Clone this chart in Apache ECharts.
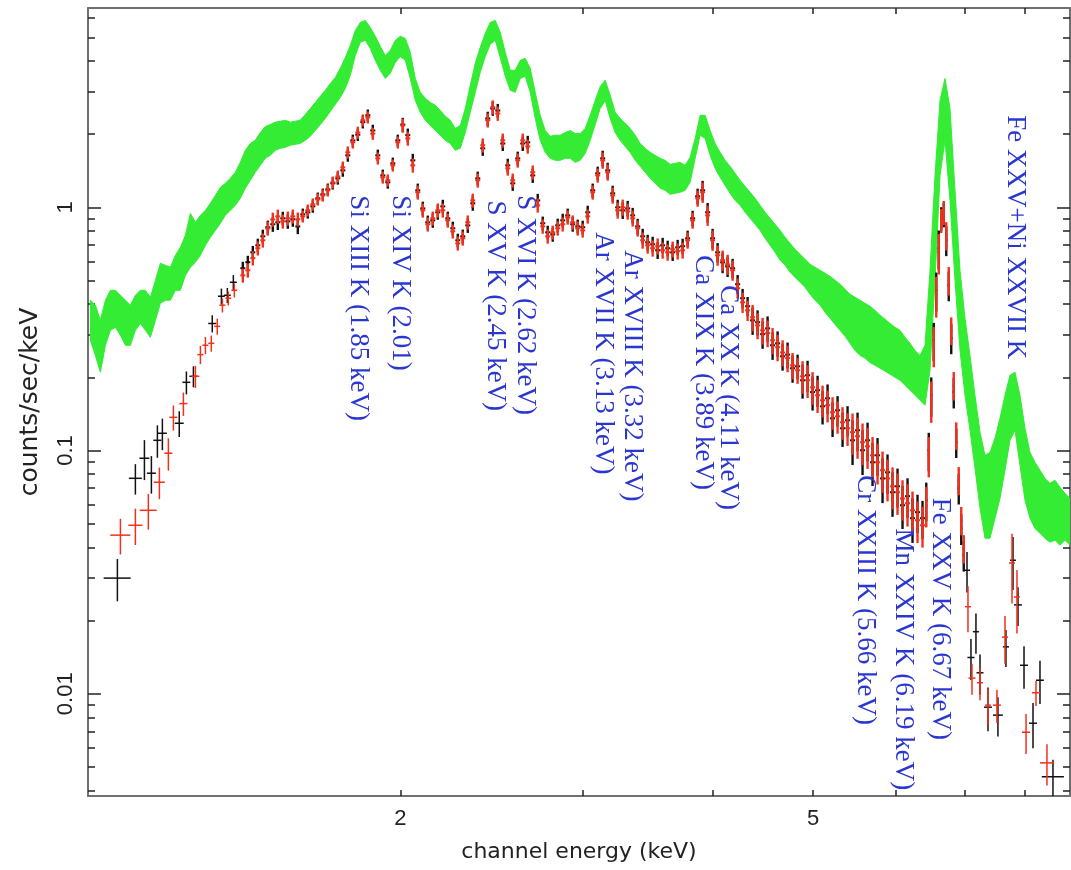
<!DOCTYPE html>
<html><head><meta charset="utf-8">
<script src="https://cdn.jsdelivr.net/npm/echarts@6/dist/echarts.min.js"></script>
<style>html,body{margin:0;padding:0;background:#fff}#c{width:1071px;height:870px}</style>
</head><body><div id="c"></div>
<script>
// ---------------- axis ticks ----------------
const xTickValues = [2, 3, 4, 5, 6, 7, 8];
const xLabelValues = [2, 5];
const yMajorValues = [0.01, 0.1, 1];
const yMinorValues = [0.004, 0.005, 0.006, 0.007, 0.008, 0.009, 0.02, 0.03, 0.04, 0.05, 0.06, 0.07, 0.08, 0.09, 0.2, 0.3, 0.4, 0.5, 0.6, 0.7, 0.8, 0.9, 2, 3, 4, 5, 6];

// ---------------- green spectrum (band: upper / lower envelope) ----------------
const greenE = [1.0053,1.0166,1.0279,1.0394,1.0510,1.0627,1.0746,1.0866,1.0987,1.1109,1.1233,1.1359,1.1486,1.1614,1.1743,1.1874,1.2007,1.2141,1.2276,1.2413,1.2552,1.2692,1.2834,1.2977,1.3122,1.3268,1.3416,1.3564,1.3715,1.3868,1.4023,1.4179,1.4337,1.4497,1.4659,1.4822,1.4988,1.5155,1.5324,1.5495,1.5668,1.5843,1.6019,1.6198,1.6379,1.6562,1.6747,1.6934,1.7123,1.7314,1.7507,1.7702,1.7900,1.8100,1.8302,1.8506,1.8712,1.8921,1.9132,1.9346,1.9562,1.9780,2.0000,2.0223,2.0449,2.0677,2.0908,2.1141,2.1377,2.1615,2.1857,2.2100,2.2347,2.2596,2.2848,2.3103,2.3361,2.3621,2.3885,2.4151,2.4421,2.4693,2.4968,2.5247,2.5528,2.5813,2.6101,2.6392,2.6686,2.6984,2.7285,2.7589,2.7897,2.8208,2.8523,2.8841,2.9163,2.9488,2.9817,3.0149,3.0486,3.0826,3.1170,3.1517,3.1869,3.2224,3.2584,3.2947,3.3315,3.3686,3.4062,3.4442,3.4826,3.5214,3.5607,3.6004,3.6406,3.6812,3.7222,3.7637,3.8057,3.8482,3.8911,3.9345,3.9784,4.0227,4.0676,4.1130,4.1589,4.2052,4.2521,4.2996,4.3475,4.3960,4.4450,4.4946,4.5447,4.5954,4.6467,4.6985,4.7509,4.8039,4.8575,4.9117,4.9665,5.0219,5.0779,5.1345,5.1918,5.2497,5.3082,5.3674,5.4273,5.4878,5.5490,5.6109,5.6735,5.7368,5.8008,5.8655,5.9309,5.9970,6.0639,6.1315,6.1999,6.2691,6.3390,6.4097,6.4812,6.5535,6.6266,6.7005,6.7752,6.8508,6.9272,7.0045,7.0827,7.1617,7.2417,7.3225,7.4042,7.4868,7.5704,7.6549,7.7403,7.8267,7.9141,8.0024,8.0917,8.1820,8.2733,8.3657,8.4590,8.5534,8.6489,8.7454,8.8430];
const greenHi = [0.415,0.396,0.343,0.415,0.456,0.456,0.435,0.415,0.396,0.435,0.456,0.456,0.427,0.501,0.589,0.578,0.567,0.635,0.685,0.767,0.945,0.868,0.927,0.972,1.039,1.12,1.208,1.255,1.316,1.393,1.531,1.715,1.83,1.885,2.03,2.15,2.19,2.24,2.26,2.28,2.24,2.26,2.28,2.41,2.55,2.70,2.86,3.03,3.23,3.42,3.73,4.13,4.63,5.34,5.76,5.87,5.49,5.05,4.59,4.21,4.42,4.86,5.05,4.95,4.34,3.39,2.97,2.81,2.70,2.63,2.50,2.37,2.28,2.11,2.17,2.55,3.17,3.91,4.55,5.19,5.76,5.87,5.24,4.34,3.66,3.66,4.02,4.10,3.73,2.97,2.39,2.07,1.96,1.98,1.98,2.03,2.07,2.01,2.01,2.11,2.39,2.75,3.14,3.33,2.89,2.46,2.32,2.215,2.11,1.98,1.83,1.748,1.683,1.636,1.59,1.56,1.502,1.516,1.531,1.488,1.605,1.92,2.39,2.39,2.07,1.83,1.683,1.56,1.474,1.38,1.291,1.22,1.153,1.089,1.019,0.954,0.901,0.852,0.804,0.753,0.711,0.672,0.641,0.611,0.583,0.567,0.551,0.536,0.520,0.501,0.483,0.460,0.439,0.427,0.415,0.403,0.392,0.377,0.360,0.347,0.333,0.321,0.312,0.292,0.276,0.258,0.246,0.271,0.551,1.353,2.75,3.39,2.55,1.175,0.551,0.350,0.246,0.1688,0.119,0.0956,0.0983,0.1124,0.1357,0.1688,0.204,0.210,0.1688,0.1235,0.0983,0.0895,0.083,0.0768,0.0733,0.0755,0.0706,0.0668,0.0635];
const greenLo = [0.284,0.246,0.210,0.271,0.312,0.321,0.298,0.271,0.271,0.312,0.333,0.312,0.292,0.343,0.403,0.415,0.415,0.456,0.456,0.525,0.567,0.594,0.635,0.698,0.753,0.804,0.860,0.927,0.972,1.019,1.089,1.197,1.291,1.393,1.488,1.59,1.636,1.715,1.748,1.765,1.80,1.815,1.83,1.885,1.96,2.07,2.19,2.32,2.48,2.65,2.83,3.08,3.49,4.21,4.77,4.86,4.50,4.02,3.66,3.39,3.56,3.94,4.17,4.02,3.39,2.75,2.46,2.28,2.17,2.07,1.98,1.885,1.83,1.715,1.748,2.03,2.46,2.97,3.59,4.17,4.68,4.86,4.13,3.46,3.03,2.97,3.39,3.46,2.97,2.32,1.885,1.683,1.59,1.56,1.56,1.59,1.59,1.531,1.56,1.667,1.885,2.19,2.55,2.75,2.32,2.03,1.885,1.78,1.683,1.56,1.474,1.393,1.316,1.255,1.197,1.175,1.131,1.142,1.153,1.175,1.267,1.59,1.98,1.92,1.636,1.446,1.328,1.231,1.142,1.068,1.019,0.954,0.901,0.852,0.804,0.746,0.698,0.653,0.606,0.578,0.541,0.515,0.492,0.469,0.439,0.415,0.396,0.370,0.350,0.330,0.312,0.295,0.276,0.258,0.246,0.240,0.230,0.224,0.218,0.212,0.206,0.200,0.1945,0.1855,0.177,0.1688,0.161,0.1535,0.214,0.501,1.353,1.885,1.068,0.501,0.258,0.1688,0.1212,0.0845,0.058,0.0436,0.0436,0.0527,0.0635,0.083,0.1102,0.1212,0.087,0.0625,0.0527,0.0478,0.0457,0.0436,0.042,0.0428,0.0408,0.0428,0.0408];

// ---------------- black & red spectra, densely binned part ----------------
const denseEdges = [1.4023,1.4179,1.4337,1.4497,1.4659,1.4822,1.4988,1.5155,1.5324,1.5495,1.5668,1.5843,1.6019,1.6198,1.6379,1.6562,1.6747,1.6934,1.7123,1.7314,1.7507,1.7702,1.7900,1.8100,1.8302,1.8506,1.8712,1.8921,1.9132,1.9346,1.9562,1.9780,2.0000,2.0223,2.0449,2.0677,2.0908,2.1141,2.1377,2.1615,2.1857,2.2100,2.2347,2.2596,2.2848,2.3103,2.3361,2.3621,2.3885,2.4151,2.4421,2.4693,2.4968,2.5247,2.5528,2.5813,2.6101,2.6392,2.6686,2.6984,2.7285,2.7589,2.7897,2.8208,2.8523,2.8841,2.9163,2.9488,2.9817,3.0149,3.0486,3.0826,3.1170,3.1517,3.1869,3.2224,3.2584,3.2947,3.3315,3.3686,3.4062,3.4442,3.4826,3.5214,3.5607,3.6004,3.6406,3.6812,3.7222,3.7637,3.8057,3.8482,3.8911,3.9345,3.9784,4.0227,4.0676,4.1130,4.1589,4.2052,4.2521,4.2996,4.3475,4.3960,4.4450,4.4946,4.5447,4.5954,4.6467,4.6985,4.7509,4.8039,4.8575,4.9117,4.9665,5.0219,5.0779,5.1345,5.1918,5.2497,5.3082,5.3674,5.4273,5.4878,5.5490,5.6109,5.6735,5.7368,5.8008,5.8655,5.9309,5.9970,6.0639,6.1315,6.1999,6.2691,6.3390,6.4097,6.4454,6.4812,6.5173,6.5535,6.5900,6.6266,6.6635,6.7005,6.7378,6.7752,6.8129,6.8508,6.8889,6.9272,6.9658,7.0045];
const redDenseY = [0.525,0.551,0.618,0.679,0.732,0.819,0.892,0.918,0.876,0.901,0.918,0.893,0.918,0.972,1.029,1.078,1.12,1.175,1.267,1.34,1.46,1.683,1.85,2.03,2.28,2.345,2.01,1.59,1.328,1.291,1.488,1.85,2.17,1.92,1.488,1.153,0.972,0.852,0.901,0.972,0.972,0.884,0.797,0.711,0.746,0.868,1.068,1.291,1.80,2.28,2.58,2.43,1.885,1.446,1.291,1.56,1.885,1.78,1.393,1.019,0.835,0.76,0.789,0.82,0.852,0.91,0.868,0.82,0.804,0.918,1.153,1.353,1.56,1.393,1.12,0.972,1.0,0.963,0.901,0.82,0.732,0.698,0.679,0.692,0.666,0.653,0.672,0.66,0.666,0.732,0.884,1.089,1.153,0.927,0.732,0.635,0.606,0.583,0.551,0.465,0.407,0.377,0.353,0.327,0.312,0.304,0.284,0.266,0.253,0.24,0.224,0.214,0.202,0.1945,0.182,0.1688,0.161,0.1535,0.1437,0.1383,0.1308,0.1235,0.119,0.1145,0.1082,0.1041,0.0956,0.0895,0.083,0.0768,0.0713,0.0674,0.0635,0.0607,0.0568,0.0517,0.0493,0.0596,0.0956,0.161,0.271,0.435,0.653,0.884,0.954,0.767,0.501,0.312,0.1855,0.1156,0.0755,0.0517,0.0396];
const blackDenseY = [0.562,0.595,0.653,0.698,0.760,0.828,0.852,0.868,0.901,0.876,0.893,0.835,0.936,0.954,1.009,1.089,1.131,1.186,1.255,1.316,1.419,1.636,1.885,1.99,2.24,2.39,2.07,1.636,1.353,1.267,1.516,1.885,2.19,1.98,1.56,1.175,0.99,0.868,0.884,0.954,1.009,0.901,0.82,0.732,0.76,0.843,1.039,1.316,1.748,2.32,2.55,2.50,1.83,1.488,1.255,1.59,1.83,1.85,1.353,1.068,0.86,0.789,0.774,0.843,0.884,0.927,0.852,0.835,0.828,0.954,1.175,1.38,1.59,1.419,1.142,1.0,0.972,0.99,0.927,0.835,0.76,0.718,0.705,0.666,0.698,0.679,0.653,0.685,0.692,0.746,0.901,1.11,1.175,0.954,0.746,0.653,0.594,0.572,0.562,0.483,0.423,0.392,0.343,0.337,0.301,0.318,0.271,0.276,0.244,0.248,0.218,0.222,0.1945,0.204,0.174,0.177,0.152,0.164,0.1357,0.1464,0.1235,0.1332,0.1102,0.1212,0.1003,0.1102,0.0895,0.0956,0.0768,0.0814,0.0674,0.0713,0.0596,0.0649,0.0527,0.0558,0.0527,0.0625,0.1003,0.1688,0.284,0.456,0.679,0.901,0.936,0.732,0.478,0.29,0.174,0.1082,0.07,0.0478,0.0371];
const denseYErr = [0.035,0.037,0.041,0.045,0.049,0.054,0.059,0.061,0.058,0.06,0.061,0.059,0.052,0.055,0.059,0.061,0.064,0.067,0.072,0.076,0.083,0.096,0.105,0.116,0.13,0.134,0.115,0.091,0.076,0.074,0.085,0.105,0.144,0.128,0.099,0.077,0.065,0.057,0.06,0.065,0.065,0.059,0.053,0.047,0.05,0.058,0.071,0.086,0.12,0.152,0.172,0.162,0.125,0.096,0.086,0.104,0.125,0.118,0.093,0.068,0.056,0.051,0.052,0.055,0.057,0.061,0.058,0.055,0.053,0.061,0.077,0.09,0.119,0.106,0.085,0.074,0.076,0.073,0.068,0.062,0.056,0.053,0.052,0.053,0.051,0.05,0.051,0.05,0.051,0.056,0.067,0.083,0.11,0.088,0.07,0.06,0.058,0.055,0.052,0.044,0.039,0.036,0.044,0.04,0.039,0.038,0.035,0.033,0.031,0.03,0.028,0.026,0.031,0.03,0.028,0.026,0.024,0.023,0.022,0.021,0.02,0.019,0.023,0.022,0.021,0.02,0.018,0.017,0.016,0.015,0.014,0.013,0.012,0.012,0.011,0.01,0.0094,0.0113,0.018,0.031,0.051,0.083,0.124,0.1,0.108,0.102,0.067,0.041,0.025,0.015,0.01,0.0069,0.0053];

// ---------------- black & red spectra, wide bins (crosses) ----------------
const blackCrossE  = [1.0674,1.1109,1.1334,1.1511,1.1665,1.1795,1.2245,1.2441,1.2636,1.3176,1.3446,1.3624,1.3807,7.036,7.098,7.177,7.242,7.371,7.536,7.671,7.792,7.879,7.985,8.146,8.273,8.515];
const blackCrossDE = [0.032,0.016,0.0125,0.0115,0.0104,0.0118,0.0122,0.011,0.0112,0.0117,0.0103,0.0106,0.0107,0.047,0.055,0.048,0.056,0.065,0.083,0.052,0.052,0.069,0.071,0.072,0.073,0.209];
const blackCrossY  = [0.0299,0.0769,0.093,0.0807,0.1102,0.1178,0.1295,0.1908,0.202,0.333,0.431,0.435,0.492,0.0322,0.0141,0.018,0.0122,0.00881,0.00817,0.0156,0.0354,0.0232,0.0131,0.00757,0.01137,0.00456];
const blackCrossDY = [0.0059,0.011,0.0174,0.0142,0.0168,0.0174,0.0157,0.0206,0.02,0.027,0.0325,0.031,0.0345,0.0061,0.0027,0.0034,0.0023,0.0018,0.0015,0.0027,0.0087,0.0042,0.0026,0.0016,0.0023,0.0008];
const redCrossE  = [1.0746,1.1109,1.1433,1.1717,1.1953,1.2087,1.2358,1.2692,1.2834,1.2977,1.3147,1.3323,1.3476,1.3654,1.3837,7.051,7.114,7.242,7.371,7.519,7.655,7.775,7.861,8.021,8.200,8.402];
const redCrossDE = [0.0239,0.0173,0.0216,0.0143,0.0107,0.0107,0.0112,0.0112,0.0085,0.0085,0.0088,0.009,0.0089,0.0091,0.0092,0.047,0.055,0.048,0.048,0.066,0.052,0.052,0.052,0.072,0.073,0.13];
const redCrossY  = [0.0449,0.0493,0.0568,0.0741,0.0975,0.137,0.156,0.202,0.248,0.271,0.276,0.324,0.396,0.423,0.456,0.0228,0.0116,0.0111,0.00898,0.00898,0.0171,0.0345,0.025,0.00695,0.0101,0.0052];
const redCrossDY = [0.0075,0.0084,0.0095,0.011,0.0148,0.0162,0.0172,0.021,0.0215,0.022,0.021,0.0245,0.0265,0.028,0.03,0.0049,0.0017,0.0017,0.0015,0.0014,0.0038,0.011,0.0073,0.0013,0.0012,0.001];

// ---------------- line identifications ----------------
const lineLabels = ["Si XIII K (1.85 keV)","Si XIV K (2.01)","S XV K (2.45 keV)","S XVI K (2.62 keV)","Ar XVII K (3.13 keV)","Ar XVIII K (3.32 keV)","Ca XIX K (3.89 keV)","Ca XX K (4.11 keV)","Cr XXIII K (5.66 keV)","Mn XXIV K (6.19 keV)","Fe XXV K (6.67 keV)","Fe XXV+Ni XXVII K"];
const lineLabelE = [1.822,2.0,2.469,2.639,3.138,3.346,3.917,4.14,5.611,6.104,6.627,7.827];
const lineLabelY = [1.12,1.12,1.068,1.12,0.789,0.666,0.635,0.478,0.0791,0.0478,0.064,2.39];

// ---------------- build ----------------
const GREEN = '#33ec33', RED = '#f2301c', BLACK = '#111111', BLUE = '#2a36d0';
const X_MIN = 1, X_MAX = 8.843, Y_MIN = 0.0038, Y_MAX = 6.6;

const greenData = greenE.map((e, i) => [e, greenLo[i], greenHi[i]]);
const redDenseData = redDenseY.map((y, i) => [denseEdges[i], denseEdges[i + 1], y, denseYErr[i], Math.sqrt(denseEdges[i] * denseEdges[i + 1])]);
const blackDenseData = blackDenseY.map((y, i) => [denseEdges[i], denseEdges[i + 1], y, denseYErr[i], Math.sqrt(denseEdges[i] * denseEdges[i + 1])]);
const blackCrossData = blackCrossE.map((e, i) => [e - blackCrossDE[i], e + blackCrossDE[i], blackCrossY[i], blackCrossDY[i], e]);
const redCrossData = redCrossE.map((e, i) => [e - redCrossDE[i], e + redCrossDE[i], redCrossY[i], redCrossDY[i], e]);
const labelData = lineLabelE.map((e, i) => [e, lineLabelY[i]]);

function errBar(color, hw, vw) {
  return function (params, api) {
    const eLo = api.value(0), eHi = api.value(1), y = api.value(2), err = api.value(3), ec = api.value(4);
    const pL = api.coord([eLo, y]), pR = api.coord([eHi, y]);
    const pT = api.coord([ec, y + err]), pB = api.coord([ec, Math.max(y - err, 1e-5)]);
    return {
      type: 'group', children: [
        { type: 'line', shape: { x1: pL[0], y1: pL[1], x2: pR[0], y2: pR[1] }, style: { stroke: color, lineWidth: hw } },
        { type: 'line', shape: { x1: pT[0], y1: pT[1], x2: pB[0], y2: pB[1] }, style: { stroke: color, lineWidth: vw } }
      ]
    };
  };
}

const axisLine = { show: true, onZero: false, lineStyle: { color: '#707070', width: 2 } };
const tickStyle = { color: '#222', width: 1.5 };
const labelFont = { fontFamily: 'Liberation Sans', fontSize: 22, color: '#222' };

function xAx(pos, withLabels) {
  return {
    type: 'log', min: X_MIN, max: X_MAX, position: pos,
    axisLine: axisLine, splitLine: { show: false }, minorTick: { show: false },
    axisTick: { show: true, inside: true, length: 6, customValues: xTickValues, lineStyle: tickStyle },
    axisLabel: withLabels ? Object.assign({ show: true, customValues: xLabelValues, margin: 12 }, labelFont) : { show: false },
    name: withLabels ? 'channel energy (keV)' : '', nameLocation: 'middle', nameGap: 45,
    nameTextStyle: { fontFamily: 'DejaVu Sans', fontSize: 22, color: '#222' }
  };
}
function yAx(pos, major, withLabels) {
  return {
    type: 'log', min: Y_MIN, max: Y_MAX, position: pos,
    axisLine: major ? axisLine : { show: false }, splitLine: { show: false }, minorTick: { show: false },
    axisTick: { show: true, inside: true, length: major ? 13 : 7, customValues: major ? yMajorValues : yMinorValues, lineStyle: tickStyle },
    axisLabel: withLabels ? Object.assign({ show: true, customValues: yMajorValues, rotate: 90, align: 'center', verticalAlign: 'bottom', margin: 11,
      formatter: v => String(+v.toPrecision(3)) }, labelFont) : { show: false },
    name: withLabels ? 'counts/sec/keV' : '', nameLocation: 'middle', nameGap: 45, nameRotate: 90,
    nameTextStyle: { fontFamily: 'DejaVu Sans', fontSize: 25, color: '#222' }
  };
}

const chart = echarts.init(document.getElementById('c'), null, { renderer: 'canvas' });
chart.setOption({
  animation: false,
  backgroundColor: '#fff',
  grid: { left: 88, right: 1, top: 8, bottom: 74, containLabel: false, outerBoundsMode: 'none' },
  xAxis: [xAx('bottom', true), xAx('top', false)],
  yAxis: [yAx('left', true, true), yAx('left', false, false), yAx('right', true, false), yAx('right', false, false)],
  series: [
    { type: 'custom', name: 'green', coordinateSystem: 'cartesian2d', clip: true, data: greenData, z: 2,
      renderItem: function (params, api) {
        if (params.dataIndex !== 0) return null;
        const pts = [];
        for (let i = 0; i < greenE.length; i++) pts.push(api.coord([greenE[i], greenHi[i]]));
        for (let i = greenE.length - 1; i >= 0; i--) pts.push(api.coord([greenE[i], greenLo[i]]));
        return { type: 'polygon', shape: { points: pts }, style: { fill: GREEN, stroke: GREEN, lineWidth: 1 } };
      } },
    { type: 'custom', name: 'black dense', coordinateSystem: 'cartesian2d', clip: true, data: blackDenseData, z: 3, renderItem: errBar(BLACK, 2, 2.4) },
    { type: 'custom', name: 'black crosses', coordinateSystem: 'cartesian2d', clip: true, data: blackCrossData, z: 3, renderItem: errBar(BLACK, 1.5, 1.5) },
    { type: 'custom', name: 'red dense', coordinateSystem: 'cartesian2d', clip: true, data: redDenseData, z: 4, renderItem: errBar(RED, 2, 2.4) },
    { type: 'custom', name: 'red crosses', coordinateSystem: 'cartesian2d', clip: true, data: redCrossData, z: 4, renderItem: errBar(RED, 1.5, 1.5) },
    { type: 'custom', name: 'labels', coordinateSystem: 'cartesian2d', clip: false, data: labelData, z: 5,
      renderItem: function (params, api) {
        const p = api.coord([api.value(0), api.value(1)]);
        return { type: 'text', x: p[0], y: p[1], rotation: -Math.PI / 2,
          style: { text: lineLabels[params.dataIndex], font: '27px "Liberation Serif"', fill: BLUE, align: 'left', verticalAlign: 'middle' } };
      } }
  ]
});
</script>
</body></html>
